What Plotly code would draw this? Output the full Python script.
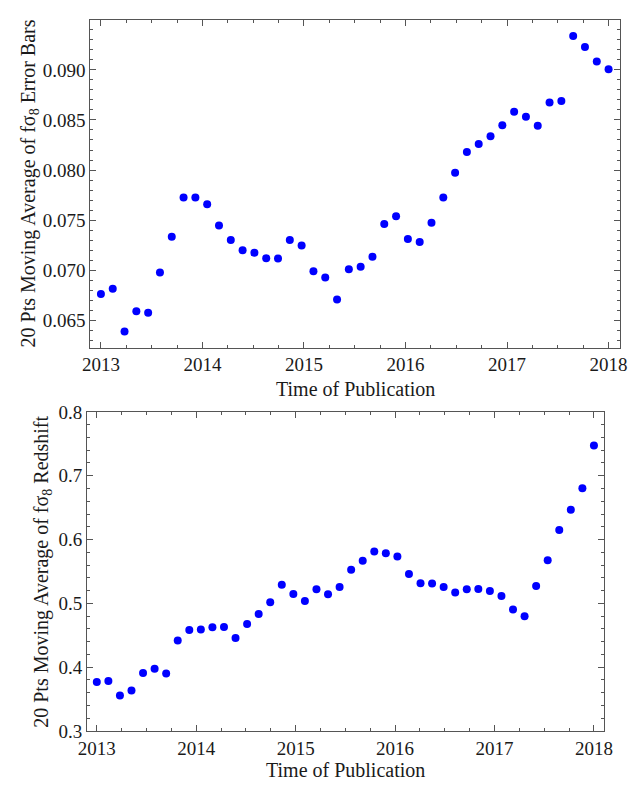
import plotly.graph_objects as go

# ---- data ----
n_points = 44
years = [2013 + i * 5 / 43 for i in range(n_points)]

error_bars_avg = [
    0.06763, 0.06815, 0.06390, 0.06591, 0.06575, 0.06977, 0.07334, 0.07726,
    0.07726, 0.07658, 0.07448, 0.07302, 0.07201, 0.07175, 0.07121, 0.07117,
    0.07302, 0.07247, 0.06990, 0.06929, 0.06708, 0.07010, 0.07036, 0.07134,
    0.07461, 0.07539, 0.07311, 0.07282, 0.07474, 0.07726, 0.07972, 0.08180,
    0.08260, 0.08338, 0.08448, 0.08581, 0.08532, 0.08442, 0.08675, 0.08688,
    0.09339, 0.09229, 0.09083, 0.09007,
]

redshift_avg = [
    0.3768, 0.3784, 0.3559, 0.3636, 0.3910, 0.3976, 0.3900, 0.4418,
    0.4585, 0.4591, 0.4627, 0.4631, 0.4459, 0.4677, 0.4835, 0.5018,
    0.5293, 0.5149, 0.5038, 0.5221, 0.5145, 0.5256, 0.5526, 0.5668,
    0.5811, 0.5785, 0.5735, 0.5460, 0.5317, 0.5312, 0.5256, 0.5170,
    0.5221, 0.5226, 0.5195, 0.5114, 0.4906, 0.4799, 0.5271, 0.5674,
    0.6151, 0.6466, 0.6802, 0.7473,
]

x_title = "Time of Publication"
y_title_top = "20 Pts Moving Average of fσ<sub>8</sub> Error Bars"
y_title_bottom = "20 Pts Moving Average of fσ<sub>8</sub> Redshift"

# page body has an 8px default margin: shrink the figure and offset coordinates
OFF = 8
W, H = 637 - OFF, 792 - OFF
FONT = "Liberation Serif"
TICK_SIZE = 19
TITLE_SIZE = 20
FRAME = "#555555"
TEXT = "#1a1a1a"

fig = go.Figure()
fig.add_trace(go.Scatter(x=years, y=error_bars_avg, mode="markers",
                         marker=dict(color="#0000ff", size=8),
                         xaxis="x", yaxis="y", showlegend=False))
fig.add_trace(go.Scatter(x=years, y=redshift_avg, mode="markers",
                         marker=dict(color="#0000ff", size=8),
                         xaxis="x2", yaxis="y2", showlegend=False))


def px_x(p):
    return (p - OFF) / W


def px_y(p):
    return 1 - (p - OFF) / H


common = dict(
    showline=True, linecolor=FRAME, linewidth=1, mirror="allticks",
    ticks="inside", ticklen=6, tickwidth=1, tickcolor=FRAME,
    showgrid=False, zeroline=False,
    tickfont=dict(family=FONT, size=TICK_SIZE, color=TEXT),
)

fig.update_layout(
    width=W, height=H,
    margin=dict(l=0, r=0, t=0, b=0),
    paper_bgcolor="white", plot_bgcolor="white",
    xaxis=dict(domain=[px_x(83.3), px_x(627.7)], anchor="y",
               range=[2012.895, 2018.112], tick0=2013, dtick=1,
               minor=dict(ticks="inside", ticklen=3, dtick=0.25, tick0=2013,
                          tickcolor=FRAME, showgrid=False),
               **common),
    yaxis=dict(domain=[px_y(346.7), px_y(10)], anchor="x",
               range=[0.06228, 0.09498], tick0=0.065, dtick=0.005,
               tickformat=".3f",
               minor=dict(ticks="inside", ticklen=3, dtick=0.001, tick0=0.065,
                          tickcolor=FRAME, showgrid=False),
               **common),
    xaxis2=dict(domain=[px_x(80), px_x(611.7)], anchor="y2",
                range=[2012.902, 2018.105], tick0=2013, dtick=1,
                minor=dict(ticks="inside", ticklen=3, dtick=0.25, tick0=2013,
                           tickcolor=FRAME, showgrid=False),
                **common),
    yaxis2=dict(domain=[px_y(740.7), px_y(412.7)], anchor="x2",
                range=[0.3, 0.8], tick0=0.3, dtick=0.1,
                tickformat=".1f",
                minor=dict(ticks="inside", ticklen=3, dtick=0.02, tick0=0.3,
                           tickcolor=FRAME, showgrid=False),
                **common),
)

tfont = dict(family=FONT, size=TITLE_SIZE, color=TEXT)
annotations = [
    dict(text=x_title, x=px_x((83.3 + 627.7) / 2), y=px_y(389),
         xref="paper", yref="paper", showarrow=False, font=tfont,
         xanchor="center", yanchor="middle"),
    dict(text=x_title, x=px_x((80 + 611.7) / 2), y=px_y(781),
         xref="paper", yref="paper", showarrow=False, font=tfont,
         xanchor="center", yanchor="middle"),
    dict(text=y_title_top, x=px_x(21), y=px_y((10 + 346.7) / 2),
         xref="paper", yref="paper", showarrow=False, font=tfont,
         textangle=-90, xanchor="center", yanchor="middle"),
    dict(text=y_title_bottom, x=px_x(34), y=px_y((412.7 + 740.7) / 2),
         xref="paper", yref="paper", showarrow=False, font=tfont,
         textangle=-90, xanchor="center", yanchor="middle"),
]
fig.update_layout(annotations=annotations)

fig.write_html("out.html")
